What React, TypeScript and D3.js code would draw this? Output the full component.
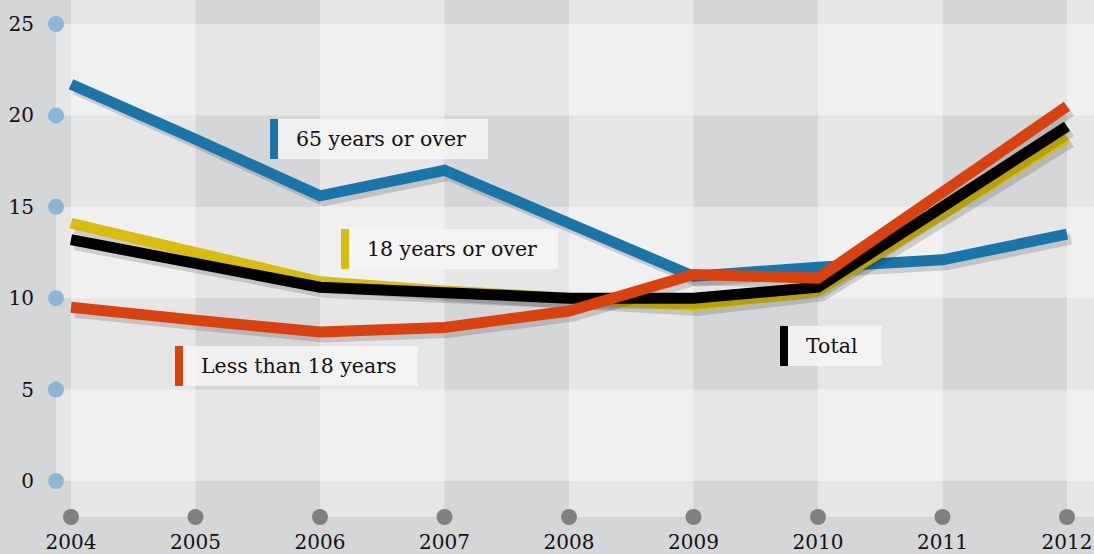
import React from "react";
import * as d3 from "d3";

const years = [2004, 2005, 2006, 2007, 2008, 2009, 2010, 2011, 2012];
const yTicks = [0, 5, 10, 15, 20, 25];

const over65 = [21.7, 18.7, 15.6, 17.0, 14.1, 11.2, 11.7, 12.1, 13.5];
const over18 = [14.1, 12.5, 10.9, 10.4, 10.0, 9.6, 10.4, 14.6, 18.8];
const total = [13.2, 11.9, 10.6, 10.3, 10.0, 10.0, 10.6, 15.0, 19.4];
const under18 = [9.5, 8.8, 8.15, 8.4, 9.3, 11.3, 11.1, 15.8, 20.5];

const seriesNames = ["65 years or over", "18 years or over", "Total", "Less than 18 years"];
const seriesColors = ["#1a75aa", "#d8bd0c", "#000000", "#d9420f"];
const seriesValues = [over65, over18, total, under18];

const W = 1094;
const H = 554;
const FONT = "'DejaVu Serif', serif";

export default function App() {
  const x = d3.scaleLinear().domain([2004, 2012]).range([71, 1067]);
  const y = d3.scaleLinear().domain([0, 25]).range([481, 24]);
  const axisY = 517;
  const axisX = 56;

  const line = d3
    .line<number>()
    .x((_, i) => x(years[i]))
    .y((d) => y(d));

  // alternating column bands
  const colBands: [number, number][] = [];
  for (let i = 0; i < years.length; i += 2) {
    const x0 = x(years[i]);
    const x1 = i + 1 < years.length ? x(years[i + 1]) : W;
    colBands.push([x0, x1]);
  }
  // alternating row bands
  const rowBands: [number, number][] = [
    [20, 25],
    [10, 15],
    [0, 5],
  ];

  // label boxes: [series index, left, top, width]
  const labels: [number, number, number, number][] = [
    [0, 270, 119, 218],
    [1, 341, 229, 217],
    [3, 175, 346, 243],
    [2, 780, 326, 102],
  ];

  return (
    <svg
      width={W}
      height={H}
      style={{ position: "absolute", left: 0, top: 0, display: "block" }}
    >
      <rect x={0} y={0} width={W} height={H} fill="#d5d6d8" />
      {colBands.map(([x0, x1], i) => (
        <rect key={"c" + i} x={x0} y={0} width={x1 - x0} height={axisY} fill="#fff" opacity={0.4} />
      ))}
      {rowBands.map(([v0, v1], i) => (
        <rect
          key={"r" + i}
          x={axisX}
          y={y(v1)}
          width={W - axisX}
          height={y(v0) - y(v1)}
          fill="#fff"
          opacity={0.4}
        />
      ))}

      {/* y axis */}
      {yTicks.map((t) => (
        <g key={"yt" + t}>
          <circle cx={axisX} cy={y(t)} r={8} fill="#8cb7d4" />
          <text
            x={34}
            y={y(t)}
            dy="0.35em"
            textAnchor="end"
            fontFamily={FONT}
            fontSize={20}
            fill="#111"
          >
            {t}
          </text>
        </g>
      ))}

      {/* x axis */}
      {years.map((yr) => (
        <g key={"xt" + yr}>
          <circle cx={x(yr)} cy={axisY} r={8} fill="#808080" />
          <text
            x={x(yr)}
            y={549}
            textAnchor="middle"
            fontFamily={FONT}
            fontSize={20}
            fill="#111"
          >
            {yr}
          </text>
        </g>
      ))}

      {/* series lines with drop shadows */}
      {seriesValues.map((vals, i) => (
        <g key={"s" + i}>
          <path
            d={line(vals) || ""}
            transform="translate(4,5)"
            fill="none"
            stroke="#000"
            strokeOpacity={0.15}
            strokeWidth={11}
          />
          <path d={line(vals) || ""} fill="none" stroke={seriesColors[i]} strokeWidth={11} />
        </g>
      ))}

      {/* series labels */}
      {labels.map(([si, lx, ly, lw]) => (
        <g key={"l" + si}>
          <rect x={lx + 8} y={ly} width={lw - 8} height={40} fill="#f4f4f4" opacity={0.85} />
          <rect x={lx} y={ly} width={8} height={40} fill={seriesColors[si]} />
          <text
            x={lx + 26}
            y={ly + 20}
            dy="0.35em"
            fontFamily={FONT}
            fontSize={20.5}
            fill="#111"
          >
            {seriesNames[si]}
          </text>
        </g>
      ))}
    </svg>
  );
}
